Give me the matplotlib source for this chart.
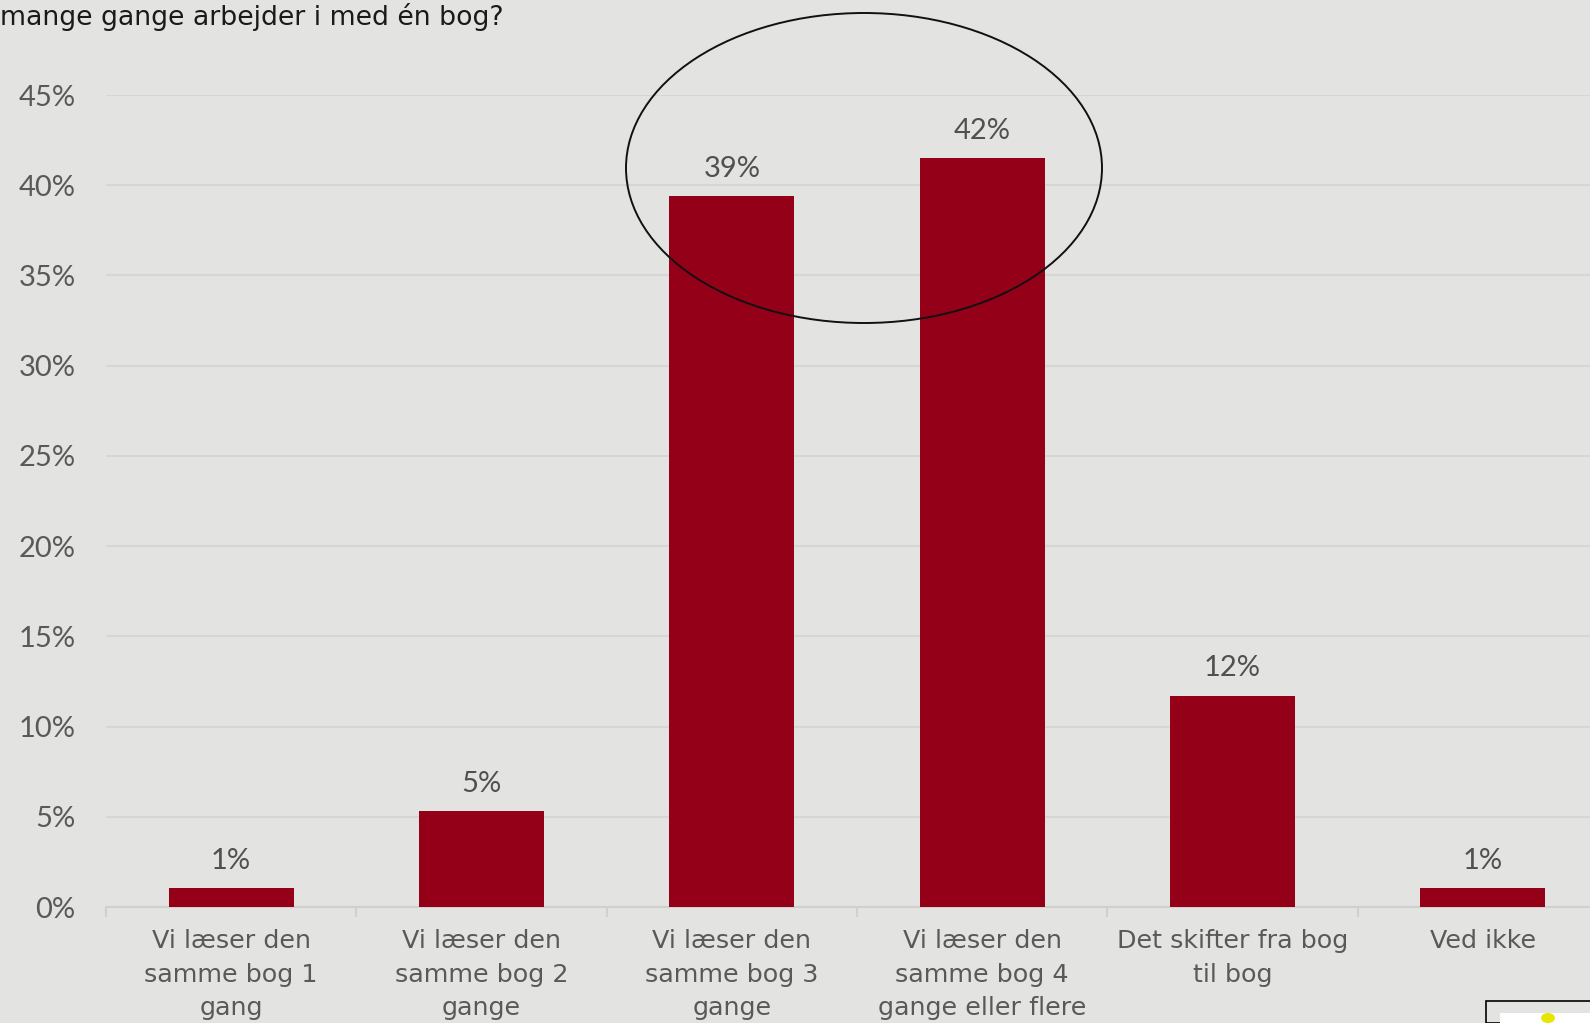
import numpy as np
import matplotlib.pyplot as plt
from matplotlib.patches import Ellipse, Rectangle

plt.rcParams['font.family'] = ['Lato', 'DejaVu Sans']

# survey answers and shares (percent)
categories = [
    "Vi læser den\nsamme bog 1\ngang",
    "Vi læser den\nsamme bog 2\ngange",
    "Vi læser den\nsamme bog 3\ngange",
    "Vi læser den\nsamme bog 4\ngange eller flere",
    "Det skifter fra bog\ntil bog",
    "Ved ikke",
]
shares = [1.05, 5.3, 39.4, 41.5, 11.7, 1.05]
yticks = [0, 5, 10, 15, 20, 25, 30, 35, 40, 45]
title = "mange gange arbejder i med én bog?"

bg = "#e3e3e1"
bar_color = "#950019"
text_gray = "#595959"
wide = ['DejaVu Sans']

W, H = 1590, 1023
fig = plt.figure(figsize=(W / 100, H / 100), dpi=100, facecolor=bg)

# axes run off the right edge on purpose
ax = fig.add_axes([106 / W, (H - 907) / H, 1502 / W, (907 - 95) / H])
ax.set_facecolor(bg)

x = np.arange(len(categories))
ax.bar(x, shares, width=0.5, color=bar_color, zorder=3)

for xi, v in zip(x, shares):
    ax.annotate(f"{v:.0f}%", (xi, v), xytext=(0, 14), textcoords="offset points",
                ha="center", va="baseline", fontsize=21, color="#505050")

ax.set_xlim(-0.5, len(categories) - 0.5)
ax.set_ylim(0, 45)
ax.set_yticks(yticks)
ax.set_yticklabels([f"{t}%" for t in yticks], fontsize=21, color=text_gray)
ax.yaxis.grid(True, color="#d6d6d4", linewidth=1.5, zorder=0)
ax.tick_params(axis="y", length=0, pad=22)

ax.set_xticks(x)
ax.set_xticklabels(categories, fontsize=18.3, color=text_gray, linespacing=1.5,
                   family=wide)
ax.tick_params(axis="x", which="major", length=0, pad=16)
ax.set_xticks(np.arange(len(categories) + 1) - 0.5, minor=True)
ax.tick_params(axis="x", which="minor", length=7, width=1.5, color="#d0d0ce")

for s in ["left", "right", "top"]:
    ax.spines[s].set_visible(False)
ax.spines["bottom"].set_color("#d0d0ce")
ax.spines["bottom"].set_linewidth(1.5)

# highlight around the two largest bars
ring = Ellipse((864 / W, 1 - 168 / H), 476 / W, 310 / H, transform=fig.transFigure,
               fill=False, edgecolor="#111111", linewidth=1.4, zorder=10)
fig.patches.append(ring)

fig.text(0, 1 - 25 / H, title, fontsize=19.3, color="#1a1a1a", ha="left", va="baseline",
         family=wide)

# corner of a logo box at the bottom right
fig.patches.append(Rectangle((1486 / W, 0), 200 / W, (H - 1001) / H, transform=fig.transFigure,
                             facecolor=bg, edgecolor="black", linewidth=1.2))
fig.patches.append(Rectangle((1500 / W, 0), 200 / W, (H - 1013) / H, transform=fig.transFigure,
                             facecolor="white", edgecolor="none"))
fig.patches.append(Ellipse((1548 / W, 1 - 1018 / H), 14 / W, 10 / H, transform=fig.transFigure,
                           facecolor="#e6e600", edgecolor="none"))

fig.savefig("out.png", dpi=100, facecolor=bg)
